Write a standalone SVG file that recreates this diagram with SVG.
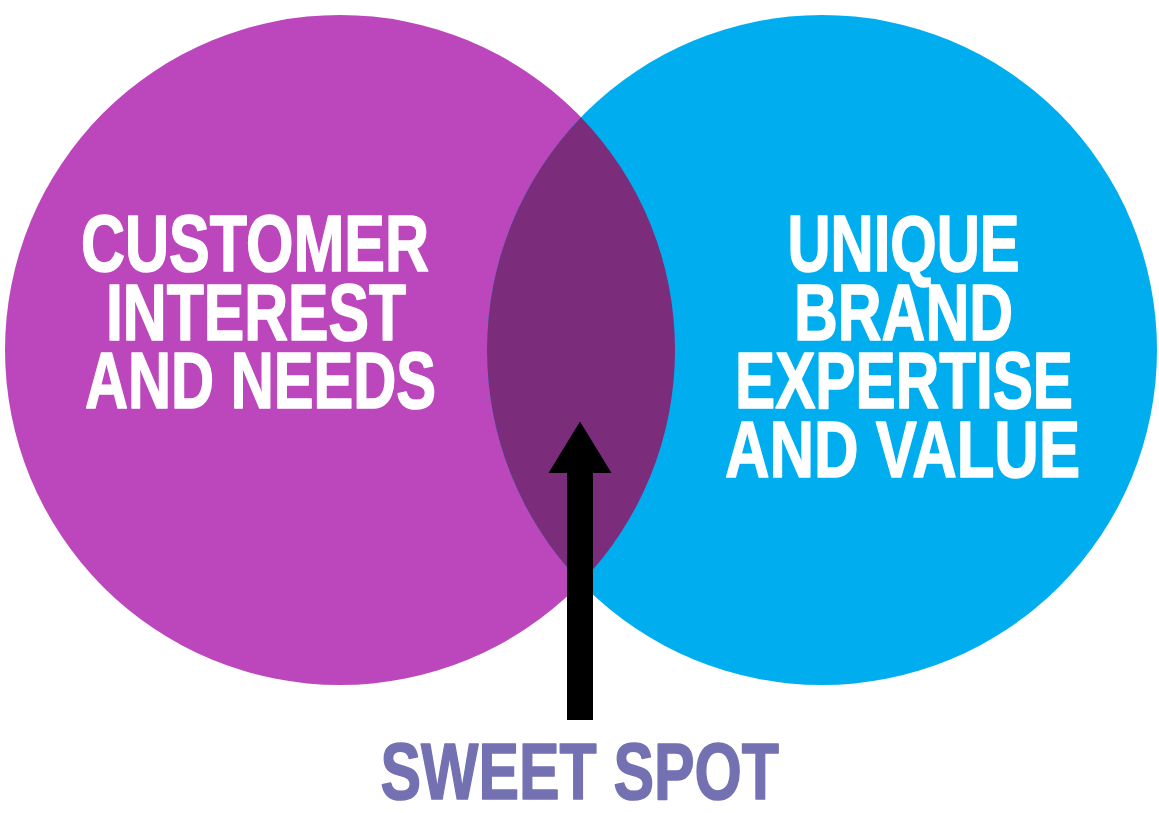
<svg xmlns="http://www.w3.org/2000/svg" width="1159" height="813" viewBox="0 0 1159 813">
  <style>
    .label { font-family: "Liberation Sans", Arial, sans-serif; font-weight: bold; font-size: 80px; fill: #ffffff; stroke: #ffffff; stroke-width: 1.6px; stroke-linejoin: round; }
    .spot { font-family: "Liberation Sans", Arial, sans-serif; font-weight: bold; font-size: 80px; fill: #7471b2; stroke: #7471b2; stroke-width: 1.6px; stroke-linejoin: round; }
  </style>
  <rect width="1159" height="813" fill="#ffffff"/>

  <g id="customer">
    <circle cx="340" cy="350" r="335" fill="#bc47bd"/>
    <text class="label" x="81" y="271" textLength="348" lengthAdjust="spacingAndGlyphs">CUSTOMER</text>
    <text class="label" x="106" y="339.5" textLength="300" lengthAdjust="spacingAndGlyphs">INTEREST</text>
    <text class="label" x="85" y="408.3" textLength="351" lengthAdjust="spacingAndGlyphs">AND NEEDS</text>
  </g>

  <g id="brand">
    <circle cx="822" cy="350" r="335" fill="#00aeef"/>
    <text class="label" x="787.5" y="271" textLength="232" lengthAdjust="spacingAndGlyphs">UNIQUE</text>
    <text class="label" x="794" y="339.5" textLength="219" lengthAdjust="spacingAndGlyphs">BRAND</text>
    <text class="label" x="735" y="408.3" textLength="338" lengthAdjust="spacingAndGlyphs">EXPERTISE</text>
    <text class="label" x="725" y="476.7" textLength="355" lengthAdjust="spacingAndGlyphs">AND VALUE</text>
  </g>

  <!-- overlap of the two circles -->
  <g id="overlap">
    <path d="M581,117.3 A335,335 0 0,1 581,582.7 A335,335 0 0,1 581,117.3 Z" fill="#7b2d7c"/>
  </g>

  <g id="connectors">
    <path d="M567,720 L567,473 L548.5,473 L580,421.5 L611.5,473 L593,473 L593,720 Z" fill="#000000"/>
  </g>

  <g id="sweet-spot">
    <text class="spot" x="380.5" y="799" textLength="398.5" lengthAdjust="spacingAndGlyphs">SWEET SPOT</text>
  </g>
</svg>
